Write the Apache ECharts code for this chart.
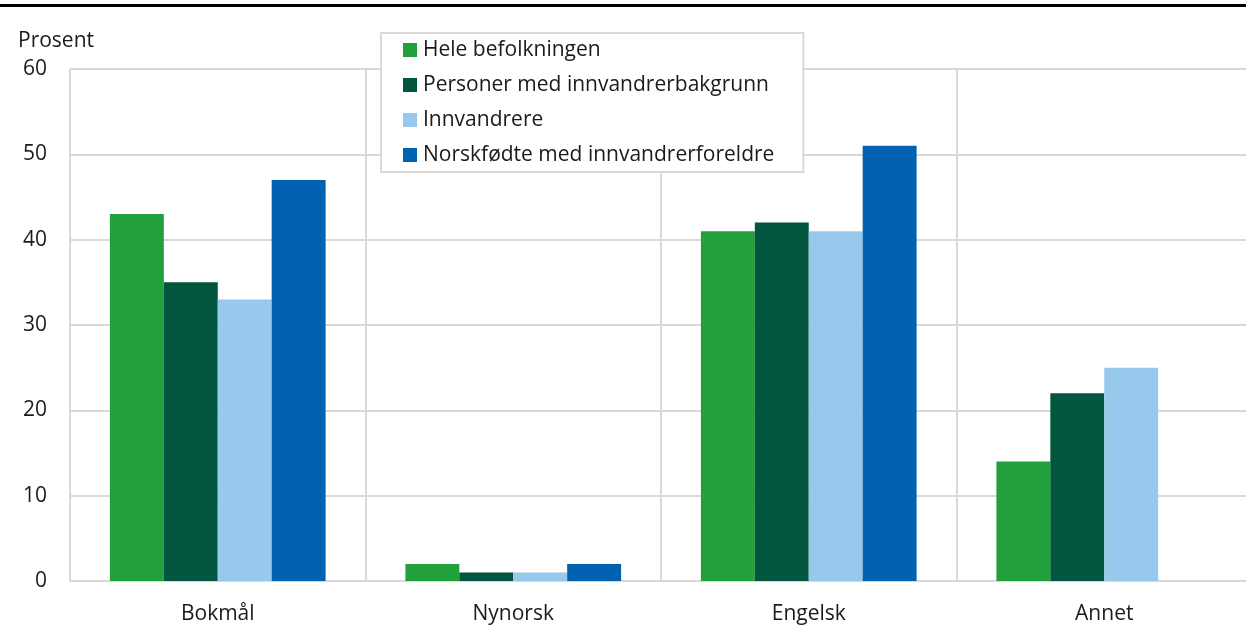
<!DOCTYPE html>
<html><head><meta charset="utf-8">
<script src="https://cdn.jsdelivr.net/npm/echarts@6/dist/echarts.min.js"></script>
<style>html,body{margin:0;padding:0;background:#fff}#c{width:1246px;height:632px}</style>
</head><body><div id="c"></div>
<script>
const categories = ['Bokmål', 'Nynorsk', 'Engelsk', 'Annet'];
const seriesNames = ['Hele befolkningen', 'Personer med innvandrerbakgrunn', 'Innvandrere', 'Norskfødte med innvandrerforeldre'];
const heleBefolkningen = [43, 2, 41, 14];
const personerMedInnvandrerbakgrunn = [35, 1, 42, 22];
const innvandrere = [33, 1, 41, 25];
const norskfodte = [47, 2, 51, null];
const yTicks = [0, 10, 20, 30, 40, 50, 60];
const colors = ['#21a03b', '#02553f', '#98c8ec', '#0062b0'];
const values = [heleBefolkningen, personerMedInnvandrerbakgrunn, innvandrere, norskfodte];
const font = '"Open Sans", "Noto Sans", sans-serif';
const fs = 21;
const chart = echarts.init(document.getElementById('c'));
chart.setOption({
  animation: false,
  textStyle: {fontFamily: font},
  graphic: [
    {type: 'rect', left: 0, top: 4, shape: {width: 1246, height: 3}, style: {fill: '#000'}},
    {type: 'text', left: 18, top: 31, style: {text: 'Prosent', font: fs + 'px ' + font, fill: '#1a1a1a'}}
  ],
  grid: {left: 70, width: 1182, top: 69, bottom: 51, containLabel: false, outerBoundsMode: 'none'},
  legend: {
    orient: 'vertical', left: 381, top: 33,
    data: seriesNames,
    itemWidth: 14, itemHeight: 14, itemGap: 13,
    icon: 'rect',
    padding: [6, 29, 6, 22],
    borderColor: '#d9d9d9', borderWidth: 2, backgroundColor: '#fff',
    textStyle: {fontSize: fs, color: '#1a1a1a', fontFamily: font, lineHeight: 22, padding: [0, 0, 0, 1]}
  },
  xAxis: {
    type: 'category', data: categories,
    axisLine: {lineStyle: {color: '#d9d9d9', width: 2}},
    axisTick: {show: false},
    splitLine: {show: true, lineStyle: {color: '#d9d9d9', width: 2}},
    axisLabel: {fontSize: fs, color: '#1a1a1a', margin: 23, fontFamily: font}
  },
  yAxis: {
    type: 'value', min: 0, max: 60, interval: 10,
    axisLine: {show: false}, axisTick: {show: false},
    splitLine: {lineStyle: {color: '#d9d9d9', width: 2}},
    axisLabel: {fontSize: fs, color: '#1a1a1a', margin: 23, fontFamily: font,
      formatter: v => yTicks.includes(v) ? String(v) : ''}
  },
  series: seriesNames.map((n, i) => ({
    name: n, type: 'bar', data: values[i],
    itemStyle: {color: colors[i]},
    barGap: '0%', barCategoryGap: '27%', z: 3
  }))
});
</script></body></html>
